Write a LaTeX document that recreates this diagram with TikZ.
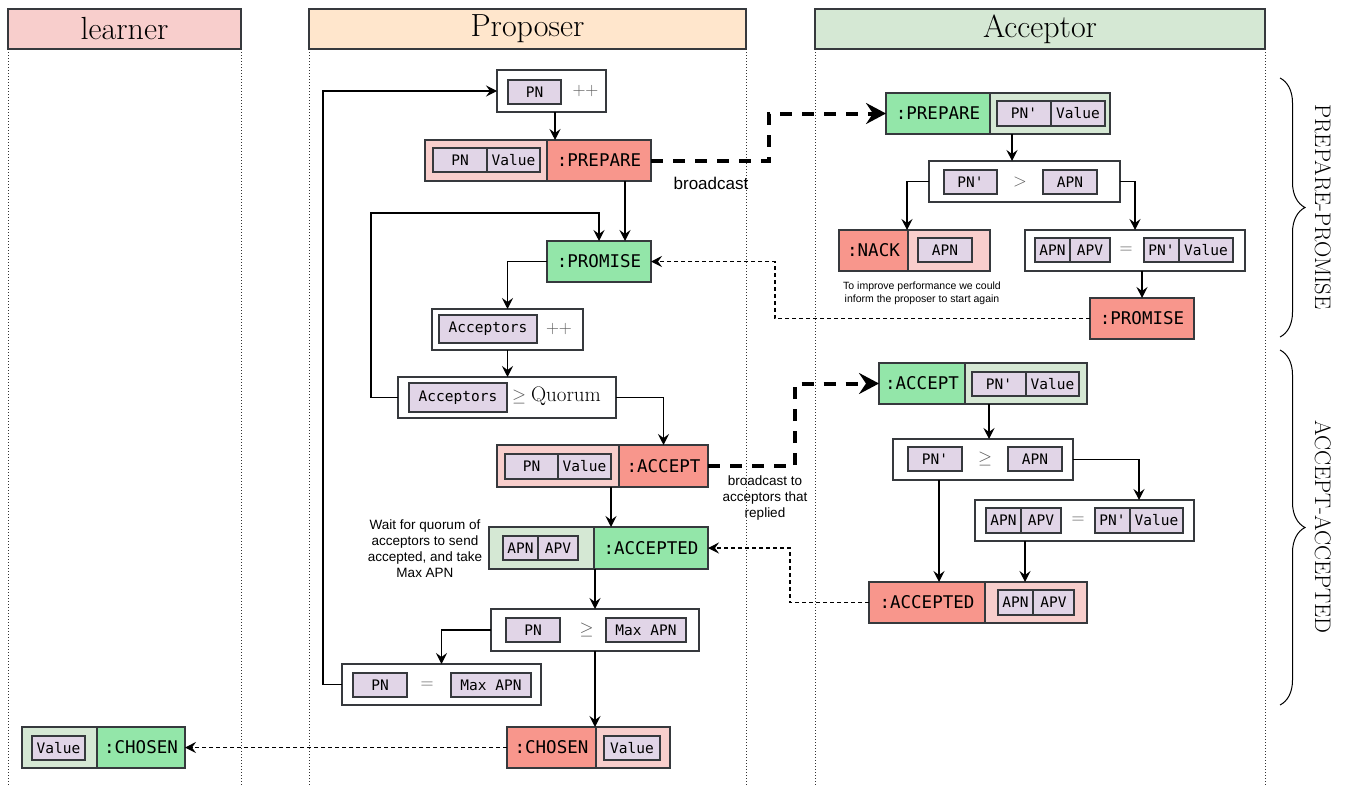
\RequirePackage{fix-cm}
\documentclass[tikz,border=0pt]{standalone}
\usepackage{fontspec}
\newfontfamily\monof{DejaVu Sans Mono}
\newfontfamily\sansf{Liberation Sans}
\usetikzlibrary{arrows.meta,calc,decorations.pathreplacing}
\definecolor{pinkl}{HTML}{F8CECC}
\definecolor{salmon}{HTML}{F8968C}
\definecolor{mint}{HTML}{93E6A9}
\definecolor{greenl}{HTML}{D5E8D4}
\definecolor{lilac}{HTML}{E1D5E7}
\definecolor{peach}{HTML}{FFE6CC}
\definecolor{bord}{HTML}{36393D}
\tikzset{
  base/.style={draw=bord, line width=1.2pt, inner sep=0pt, outer sep=0pt, rectangle},
  wbox/.style={base, fill=white},
  pbox/.style={base, fill=pinkl},
  sbox/.style={base, fill=salmon, font=\monof\fontsize{17.5}{20}\selectfont},
  gbox/.style={base, fill=mint, font=\monof\fontsize{17.5}{20}\selectfont},
  lgbox/.style={base, fill=greenl},
  fld/.style={base, fill=lilac, font=\monof\fontsize{14.5}{16}\selectfont},
  hdr/.style={base, font=\fontsize{32}{34}\selectfont},
  op/.style={inner sep=0pt, text=black!65, font=\fontsize{18}{20}\selectfont},
  note/.style={inner sep=0pt, align=center, font=\sansf\fontsize{13.5}{16.2}\selectfont},
  arr/.style={draw=black, line width=1.2pt, -{Stealth[length=11pt,width=11pt,inset=4pt]}},
  dsh/.style={arr, dash pattern=on 4pt off 3pt},
  bcast/.style={draw=black, line width=4pt, dash pattern=on 12pt off 10pt, -{Stealth[length=20pt,width=21pt,inset=7pt]}},
  lane/.style={draw=black!80, line width=0.9pt, dash pattern=on 1pt off 2pt},
  phase/.style={inner sep=0pt, rotate=-90, font=\fontsize{22.5}{24}\selectfont}
}
\newcommand\bx[7][]{\node[#1, minimum width={(#5)-(#3)}, minimum height={(#6)-(#4)}] (#2) at ({((#3)+(#5))/2},{((#4)+(#6))/2}) {#7};}
\begin{document}
\begin{tikzpicture}[x=1pt,y=-1pt]
\useasboundingbox (0,0) rectangle (1346,785);
% lanes
\bx[hdr, fill=pinkl]{hL}{8}{9}{241}{49}{learner}
\bx[hdr, fill=peach]{hP}{309}{9}{746}{49}{Proposer}
\bx[hdr, fill=greenl]{hA}{815}{9}{1265}{49}{Acceptor}
\foreach \xx in {8,241,309,746,815,1265} \draw[lane] (\xx,49) -- (\xx,785);

% ---------------- Proposer ----------------
\bx[wbox]{pnpp}{497}{70}{606}{112}{}
\bx[fld]{pnppf}{508}{80}{561}{104}{PN}
\node[op] (pnppo) at (585.5,91) {$+{+}$};

\bx[pbox]{prepL}{425}{140}{547}{181}{}
\bx[sbox]{prepR}{547}{140}{651}{181}{:PREPARE}
\bx[fld]{prepPN}{433}{148}{487}{172}{PN}
\bx[fld]{prepV}{487}{148}{540}{172}{Value}

\bx[gbox]{prom}{547}{241}{651}{282}{:PROMISE}

\bx[wbox]{accpp}{432}{309}{583}{350}{}
\bx[fld]{accppf}{439}{315}{537}{343}{Acceptors}
\node[op] (accppo) at (559,329) {$+{+}$};

\bx[wbox]{quor}{398}{377}{616}{418}{}
\bx[fld]{quorf}{409}{383}{507}{412}{Acceptors}
\node[op] (quoro) at (519,397) {$\geq$};
\node[inner sep=0pt, font=\fontsize{21}{23}\selectfont] (quort) at (566,396) {Quorum};

\bx[pbox]{accL}{497}{445}{619}{487}{}
\bx[sbox]{accR}{619}{445}{708}{487}{:ACCEPT}
\bx[fld]{accPN}{505}{454}{558}{479}{PN}
\bx[fld]{accV}{558}{454}{611}{479}{Value}

\bx[lgbox]{acdL}{489}{527}{594}{569}{}
\bx[gbox]{acdR}{594}{527}{708}{569}{:ACCEPTED}
\bx[fld]{acdN}{503}{536}{538}{560}{APN}
\bx[fld]{acdV}{538}{536}{578}{560}{APV}
\node[note] (waitn) at (425,548.5) {Wait for quorum of\\acceptors to send\\accepted, and take\\Max APN};

\bx[wbox]{cmp}{491}{609}{699}{651}{}
\bx[fld]{cmpPN}{506}{618}{560}{642}{PN}
\node[op] (cmpo) at (586.5,630) {$\geq$};
\bx[fld]{cmpM}{606}{618}{686}{642}{Max APN}

\bx[wbox]{eq}{342}{664}{541}{705}{}
\bx[fld]{eqPN}{353}{673}{407}{697}{PN}
\node[op] (eqo) at (427,685) {$=$};
\bx[fld]{eqM}{451}{673}{531}{697}{Max APN}

\bx[sbox]{chL}{507}{727}{596}{768}{:CHOSEN}
\bx[pbox]{chR}{596}{727}{670}{768}{}
\bx[fld]{chV}{604}{736}{660}{760}{Value}

% ---------------- Learner ----------------
\bx[lgbox]{lchL}{22}{727}{97}{768}{}
\bx[fld]{lchV}{32}{736}{85}{760}{Value}
\bx[gbox]{lchR}{97}{727}{185}{768}{:CHOSEN}

% ---------------- Acceptor ----------------
\bx[gbox]{apL}{886}{93}{990}{134}{:PREPARE}
\bx[lgbox]{apR}{990}{93}{1110}{134}{}
\bx[fld]{apPN}{997}{101}{1051}{126}{PN'}
\bx[fld]{apV}{1051}{101}{1105}{126}{Value}

\bx[wbox]{agt}{929}{161}{1120}{202}{}
\bx[fld]{agtPN}{944}{170}{997}{194}{PN'}
\node[op] (agto) at (1020,182) {$>$};
\bx[fld]{agtA}{1043}{170}{1097}{194}{APN}

\bx[sbox]{nkL}{839}{230}{908}{271}{:NACK}
\bx[pbox]{nkR}{908}{230}{990}{271}{}
\bx[fld]{nkA}{918}{238}{972}{262}{APN}
\node[note, font=\sansf\fontsize{10.5}{13}\selectfont] (nkn) at (922,293) {To improve performance we could\\inform the proposer to start again};

\bx[wbox]{aeq}{1025}{230}{1245}{271}{}
\bx[fld]{aeqN}{1035}{238}{1070}{262}{APN}
\bx[fld]{aeqV}{1070}{238}{1110}{262}{APV}
\node[op] (aeqo) at (1126,250) {$=$};
\bx[fld]{aeqP}{1144}{238}{1179}{262}{PN'}
\bx[fld]{aeqW}{1179}{238}{1233}{262}{Value}

\bx[sbox]{apr}{1090}{298}{1194}{339}{:PROMISE}

\bx[gbox]{aaL}{879}{363}{965}{404}{:ACCEPT}
\bx[lgbox]{aaR}{965}{363}{1087}{404}{}
\bx[fld]{aaPN}{972}{372}{1026}{396}{PN'}
\bx[fld]{aaV}{1026}{372}{1079}{396}{Value}

\bx[wbox]{age}{893}{439}{1073}{480}{}
\bx[fld]{agePN}{908}{447}{962}{471}{PN'}
\node[op] (ageo) at (985,459) {$\geq$};
\bx[fld]{ageA}{1008}{447}{1062}{471}{APN}

\bx[wbox]{aeq2}{975}{500}{1194}{541}{}
\bx[fld]{aeq2N}{986}{508}{1021}{533}{APN}
\bx[fld]{aeq2V}{1021}{508}{1061}{533}{APV}
\node[op] (aeq2o) at (1078,520) {$=$};
\bx[fld]{aeq2P}{1095}{508}{1130}{533}{PN'}
\bx[fld]{aeq2W}{1130}{508}{1183}{533}{Value}

\bx[sbox]{aadL}{869}{582}{985}{623}{:ACCEPTED}
\bx[pbox]{aadR}{985}{582}{1087}{623}{}
\bx[fld]{aadN}{998}{590}{1033}{615}{APN}
\bx[fld]{aadV}{1033}{590}{1074}{615}{APV}

% ---------------- connectors: proposer ----------------
\coordinate (l1) at (323,91);
\draw[arr] (eq.west) -| (l1) -- (pnpp.west);
\draw[arr] ([xshift=3.5pt]pnpp.south) -- ([xshift=3.5pt]pnpp.south |- prepR.north);
\draw[arr] ([xshift=26pt]prepR.south) -- ([xshift=26pt]prom.north);
\coordinate (l2) at (371,213);
\draw[arr] (quor.west) -| (l2) -| (prom.north);
\draw[arr] (prom.west) -| (accpp.north);
\draw[arr] (accpp.south) -- (accpp.south |- quor.north);
\draw[arr] (quor.east) -| (accR.north);
\draw[arr] ([xshift=-8pt]accL.south east) -- ([xshift=-8pt]accL.south east |- acdR.north);
\draw[arr] (cmp.north |- acdR.south) -- (cmp.north);
\draw[arr] (cmp.west) -| (eq.north);
\draw[arr] (cmp.south) -- (cmp.south |- chL.north);
\draw[dsh] (chL.west) -- (lchR.east);

% broadcasts
\coordinate (b1) at (769,113.5);
\draw[bcast] (prepR.east) -| (b1) -- (apL.west);
\node[inner sep=0pt, font=\sansf\fontsize{17}{19}\selectfont] (bcl) at (711,183) {broadcast};
\coordinate (b2) at (795,383.5);
\draw[bcast] (accR.east) -| (b2) -- (aaL.west);
\node[note] (bcl2) at (765,498) {broadcast to\\acceptors that\\replied};

% replies
\coordinate (d1) at (775,261.5);
\draw[dsh] (apr.west) -| (d1) -- (prom.east);
\coordinate (d2) at (790,548);
\draw[dsh] (aadL.west) -| (d2) -- (acdR.east);

% ---------------- connectors: acceptor ----------------
\draw[arr] ([xshift=22pt]apR.south west) -- ([xshift=22pt]apR.south west |- agt.north);
\draw[arr] (agt.west) -| ([xshift=-1pt]nkL.north east);
\draw[arr] (agt.east) -| (aeq.north);
\draw[arr] (apr.north |- aeq.south) -- (apr.north);
\draw[arr] ([xshift=6pt]age.north |- aaR.south) -- ([xshift=6pt]age.north);
\draw[arr] ([xshift=-44pt]age.south) -- ([xshift=-44pt]age.south |- aadL.north);
\draw[arr] (age.east) -| ([xshift=54.5pt]aeq2.north);
\draw[arr] ([xshift=-59.5pt]aeq2.south) -- ([xshift=-59.5pt]aeq2.south |- aadR.north);

% ---------------- phases ----------------
\draw[line width=1pt, decorate, decoration={brace, amplitude=25pt}] (1280,78) -- (1280,337);
\node[phase] (ph1) at (1323,207) {PREPARE-PROMISE};
\draw[line width=1pt, decorate, decoration={brace, amplitude=25pt}] (1280,350) -- (1280,705);
\node[phase] (ph2) at (1323,527) {ACCEPT-ACCEPTED};
\end{tikzpicture}
\end{document}
